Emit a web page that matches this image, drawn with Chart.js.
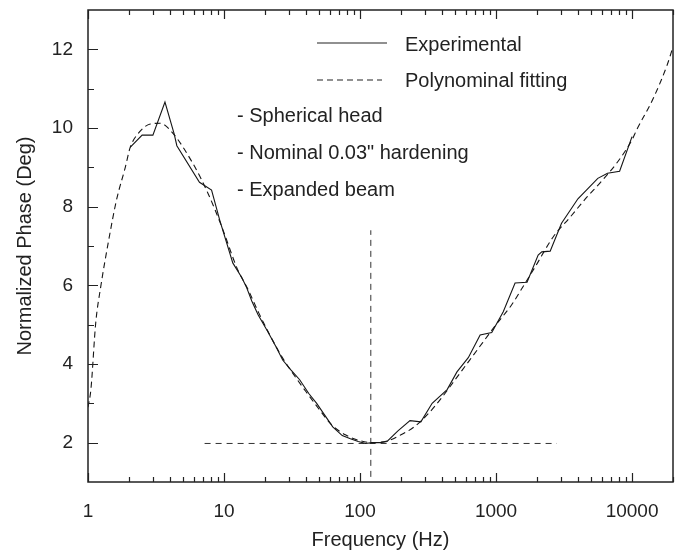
<!DOCTYPE html>
<html>
<head>
<meta charset="utf-8">
<script src="https://cdn.jsdelivr.net/npm/chart.js@4.4.1/dist/chart.umd.min.js"></script>
<style>
  html, body { margin: 0; padding: 0; background: #fff; }
  canvas { display: block; }
</style>
</head>
<body>
<canvas id="phaseChart" width="680" height="551"></canvas>
<script>
// measured curve
const expFreq = [2.04, 2.5, 3.0, 3.68, 4.3, 4.5, 6.6, 8.1, 9.3, 11.6, 13.5, 14.6, 16, 17.8, 21, 24, 27, 31, 36, 42, 48, 55, 63, 74, 85, 97, 110, 122, 140, 158, 190, 233, 280, 339, 437, 516, 625, 764, 930, 1130, 1380, 1690, 2040, 2170, 2500, 3030, 4000, 5600, 6600, 8100, 10000];
const expPhase = [9.51, 9.82, 9.82, 10.66, 9.85, 9.55, 8.62, 8.42, 7.66, 6.57, 6.2, 5.96, 5.6, 5.25, 4.82, 4.45, 4.1, 3.85, 3.6, 3.25, 3.0, 2.7, 2.4, 2.18, 2.1, 2.03, 1.98, 2.0, 2.0, 2.03, 2.3, 2.56, 2.53, 3.0, 3.35, 3.8, 4.16, 4.74, 4.8, 5.33, 6.06, 6.08, 6.77, 6.85, 6.87, 7.58, 8.2, 8.72, 8.85, 8.9, 9.78];

// polynomial fit curve
const fitFreq = [1, 1.05, 1.14, 1.24, 1.42, 1.62, 1.88, 2.04, 2.35, 2.87, 3.4, 4.2, 5.9, 7.6, 9.6, 12.6, 15, 18, 22, 27, 33, 40, 50, 62, 78, 100, 125, 160, 200, 250, 320, 400, 500, 640, 800, 1000, 1300, 1600, 1940, 2630, 3500, 4650, 5800, 7800, 10000, 10800, 14300, 18100, 20000];
const fitPhase = [2.9, 3.35, 5.05, 5.96, 7.15, 8.17, 9.0, 9.5, 9.87, 10.1, 10.12, 9.87, 9.1, 8.35, 7.5, 6.4, 5.9, 5.3, 4.7, 4.15, 3.7, 3.3, 2.85, 2.45, 2.2, 2.05, 2.0, 2.05, 2.2, 2.4, 2.75, 3.15, 3.6, 4.1, 4.55, 5.0, 5.5, 6.0, 6.47, 7.23, 7.73, 8.24, 8.6, 9.13, 9.7, 9.95, 10.75, 11.6, 12.06];

// minimum marker lines
const hLineFreq = [7.2, 2800];
const hLinePhase = [1.98, 1.98];
const vLineFreq = [120, 120];
const vLinePhase = [1.13, 7.4];

const xTickValues = [1, 10, 100, 1000, 10000];
const xTickLabels = ['1', '10', '100', '1000', '10000'];
const yTickValues = [2, 4, 6, 8, 10, 12];

const legendLabels = ['Experimental', 'Polynominal fitting'];
const notes = ['- Spherical head', '- Nominal 0.03" hardening', '- Expanded beam'];

const ink = '#222';
const family = '"Liberation Sans", Arial, Helvetica, sans-serif';

const toPoints = (xs, ys) => xs.map((x, i) => ({ x: x, y: ys[i] }));

// box, inward ticks, legend and notes
const frameTicks = {
  id: 'frameTicks',
  afterDraw(chart) {
    const { ctx, chartArea: a, scales: { x, y } } = chart;
    ctx.save();
    ctx.strokeStyle = ink;
    ctx.lineWidth = 1.5;
    ctx.strokeRect(a.left, a.top, a.right - a.left, a.bottom - a.top);

    ctx.lineWidth = 1.2;
    ctx.beginPath();
    for (let d = 1; d <= 10000; d *= 10) {
      for (let m = 1; m < 10; m++) {
        const v = d * m;
        if (v > x.max) break;
        const px = Math.round(x.getPixelForValue(v)) + 0.5;
        const len = m === 1 ? 9 : 5;
        ctx.moveTo(px, a.bottom);
        ctx.lineTo(px, a.bottom - len);
        ctx.moveTo(px, a.top);
        ctx.lineTo(px, a.top + len);
      }
    }
    for (let v = 2; v <= 12; v++) {
      const py = Math.round(y.getPixelForValue(v)) + 0.5;
      const len = v % 2 === 0 ? 10 : 6;
      ctx.moveTo(a.left, py);
      ctx.lineTo(a.left + len, py);
    }
    ctx.stroke();

    // legend samples
    ctx.lineWidth = 1.1;
    ctx.beginPath();
    ctx.moveTo(317, 43);
    ctx.lineTo(387, 43);
    ctx.stroke();
    ctx.setLineDash([6, 4]);
    ctx.beginPath();
    ctx.moveTo(317, 80);
    ctx.lineTo(382, 80);
    ctx.stroke();
    ctx.setLineDash([]);

    ctx.fillStyle = ink;
    ctx.font = '20px ' + family;
    ctx.textBaseline = 'middle';
    ctx.textAlign = 'left';
    ctx.fillText(legendLabels[0], 405, 45);
    ctx.fillText(legendLabels[1], 405, 81);
    notes.forEach((t, i) => ctx.fillText(t, 237, 116 + i * 37));
    ctx.restore();
  }
};

new Chart(document.getElementById('phaseChart').getContext('2d'), {
  type: 'line',
  data: {
    datasets: [
      {
        label: legendLabels[0],
        data: toPoints(expFreq, expPhase),
        borderColor: '#151515',
        borderWidth: 1.1,
        tension: 0,
      },
      {
        label: legendLabels[1],
        data: toPoints(fitFreq, fitPhase),
        borderColor: '#151515',
        borderWidth: 1.1,
        borderDash: [6, 4],
        cubicInterpolationMode: 'monotone',
      },
      {
        label: 'min-h',
        data: toPoints(hLineFreq, hLinePhase),
        borderColor: '#333',
        borderWidth: 1,
        borderDash: [6, 5],
      },
      {
        label: 'min-v',
        data: toPoints(vLineFreq, vLinePhase),
        borderColor: '#333',
        borderWidth: 1,
        borderDash: [6, 5],
      },
    ]
  },
  options: {
    responsive: false,
    animation: false,
    devicePixelRatio: 1,
    layout: { padding: { top: 10, right: 7, left: 0, bottom: 0 } },
    elements: { point: { radius: 0 } },
    plugins: {
      legend: { display: false },
      tooltip: { enabled: false },
    },
    scales: {
      x: {
        type: 'logarithmic',
        min: 1,
        max: 20000,
        grid: { display: false, drawTicks: false },
        border: { display: false },
        afterBuildTicks: (s) => { s.ticks = xTickValues.map(v => ({ value: v })); },
        afterFit: (s) => {
          s.height = 69;
          s.paddingLeft = 0;
          s.paddingRight = 0;
        },
        ticks: {
          padding: 18,
          color: ink,
          font: { family: family, size: 19 },
          maxRotation: 0,
          autoSkip: false,
          callback: (v) => xTickLabels[xTickValues.indexOf(v)] ?? '',
        },
        title: {
          display: true,
          text: 'Frequency (Hz)',
          color: ink,
          font: { family: family, size: 20, lineHeight: 1.1 },
          padding: 0,
        },
      },
      y: {
        type: 'linear',
        min: 1,
        max: 13,
        grid: { display: false, drawTicks: false },
        border: { display: false },
        afterBuildTicks: (s) => { s.ticks = yTickValues.map(v => ({ value: v })); },
        afterFit: (s) => {
          s.width = 88;
          s.paddingTop = 0;
          s.paddingBottom = 0;
        },
        ticks: {
          padding: 15,
          color: ink,
          font: { family: family, size: 19 },
          callback: (v) => String(v),
        },
        title: {
          display: true,
          text: 'Normalized Phase (Deg)',
          color: ink,
          font: { family: family, size: 20, lineHeight: 1.2 },
          padding: { top: 13, bottom: 0 },
        },
      },
    }
  },
  plugins: [frameTicks]
});
</script>
</body>
</html>
